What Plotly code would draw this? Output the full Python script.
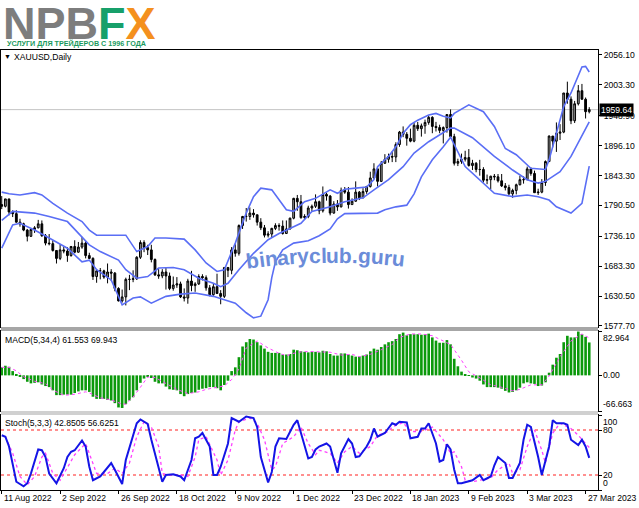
import math
import plotly.graph_objects as go

# ---------------- data ----------------
tick_idx = [0, 16, 32, 48, 64, 80, 96, 112, 128, 144, 160]
tick_labels = ["11 Aug 2022", "2 Sep 2022", "26 Sep 2022", "18 Oct 2022", "9 Nov 2022",
               "1 Dec 2022", "23 Dec 2022", "18 Jan 2023", "9 Feb 2023", "3 Mar 2023", "27 Mar 2023"]

opens = [1792,1789,1802,1779,1776,1761,1758,1747,1736,1748,
         1751,1758,1737,1724,1723,1711,1697,1712,1710,1702,
         1718,1708,1717,1724,1702,1697,1665,1675,1675,1664,
         1673,1671,1644,1622,1629,1660,1660,1661,1699,1725,
         1716,1712,1695,1668,1666,1673,1666,1644,1650,1652,
         1629,1627,1657,1649,1652,1665,1663,1645,1633,1647,
         1635,1630,1681,1676,1712,1706,1755,1771,1771,1777,
         1774,1761,1751,1738,1740,1750,1755,1754,1741,1749,
         1768,1803,1797,1769,1771,1786,1789,1797,1781,1810,
         1807,1777,1793,1788,1817,1814,1792,1798,1814,1804,
         1815,1824,1839,1855,1833,1865,1872,1877,1876,1898,
         1920,1916,1909,1904,1932,1926,1931,1937,1946,1930,
         1928,1923,1928,1951,1912,1865,1868,1872,1875,1861,
         1865,1854,1854,1835,1836,1842,1841,1834,1825,1822,
         1811,1817,1827,1836,1836,1855,1847,1813,1814,1831,
         1868,1913,1904,1918,1920,1989,1978,1940,1970,1993,
         1978,1956]
highs = [1807,1802,1802,1782,1782,1767,1760,1749,1749,1754,
         1765,1764,1740,1740,1729,1711,1722,1718,1717,1719,
         1729,1726,1735,1728,1707,1699,1677,1680,1677,1688,
         1678,1673,1646,1642,1663,1668,1676,1701,1729,1729,
         1721,1721,1697,1678,1678,1681,1672,1665,1664,1656,
         1644,1661,1675,1655,1669,1669,1667,1650,1653,1670,
         1641,1681,1681,1717,1722,1757,1772,1786,1787,1784,
         1774,1768,1756,1745,1751,1759,1759,1764,1764,1769,
         1804,1809,1809,1775,1790,1792,1810,1799,1824,1813,
         1809,1798,1800,1822,1823,1823,1803,1833,1816,1821,
         1825,1850,1865,1858,1869,1881,1882,1886,1902,1922,
         1930,1920,1926,1936,1938,1935,1942,1949,1948,1938,
         1933,1930,1951,1960,1917,1873,1882,1887,1890,1871,
         1867,1871,1858,1845,1843,1846,1846,1846,1830,1827,
         1820,1829,1843,1842,1859,1858,1852,1820,1837,1870,
         1914,1913,1937,1934,1989,2009,1983,1975,2003,2005,
         1981,1964]
lows = [1784,1787,1773,1770,1760,1753,1745,1727,1735,1742,
        1750,1735,1720,1720,1709,1688,1694,1706,1691,1700,
        1706,1707,1714,1697,1696,1659,1654,1660,1661,1653,
        1657,1639,1621,1619,1614,1641,1655,1659,1696,1708,
        1703,1690,1666,1661,1662,1642,1641,1640,1645,1627,
        1621,1617,1639,1638,1650,1658,1640,1630,1631,1635,
        1616,1627,1664,1669,1700,1702,1749,1762,1765,1769,
        1755,1747,1734,1734,1733,1747,1746,1739,1740,1748,
        1766,1781,1767,1765,1768,1780,1786,1775,1778,1799,
        1773,1776,1781,1787,1811,1785,1792,1797,1800,1803,
        1811,1822,1838,1824,1832,1864,1866,1867,1867,1894,
        1911,1896,1902,1902,1922,1912,1917,1933,1918,1921,
        1918,1900,1919,1911,1861,1860,1864,1868,1859,1853,
        1849,1843,1831,1828,1819,1835,1831,1823,1817,1809,
        1804,1810,1826,1829,1835,1843,1813,1809,1812,1825,
        1867,1893,1885,1906,1918,1970,1934,1936,1967,1977,
        1944,1953]
closes = [1789,1802,1779,1776,1761,1758,1747,1736,1748,1751,
          1758,1737,1724,1723,1711,1697,1712,1710,1702,1718,
          1708,1717,1724,1702,1697,1665,1675,1675,1664,1673,
          1671,1644,1622,1629,1660,1660,1661,1699,1725,1716,
          1712,1695,1668,1666,1673,1666,1644,1650,1652,1629,
          1627,1657,1649,1652,1665,1663,1645,1633,1647,1635,
          1630,1681,1676,1712,1706,1755,1771,1771,1777,1774,
          1761,1751,1738,1740,1750,1755,1754,1741,1749,1768,
          1803,1797,1769,1771,1786,1789,1797,1781,1810,1807,
          1777,1793,1788,1817,1814,1792,1798,1814,1804,1815,
          1824,1839,1855,1833,1865,1872,1877,1876,1898,1920,
          1916,1909,1904,1932,1926,1931,1937,1946,1930,1928,
          1923,1928,1951,1912,1865,1868,1872,1875,1861,1865,
          1854,1854,1835,1836,1842,1841,1834,1825,1822,1811,
          1817,1827,1836,1836,1855,1847,1813,1814,1831,1868,
          1913,1904,1918,1920,1989,1978,1940,1970,1993,1978,
          1956,1959.64]
bars_idx = list(range(len(closes)))

bb_up_idx = [0,2,5,9,11,14,18,22,24,26,34,37,40,42,45,50,53,56,59,61,64,67,69,71,74,76,78,80,82,83,86,
             90,92,94,97,100,102,103,106,108,110,112,114,117,119,121,123,124,128,132,135,138,141,145,149,
             150,152,154,156,159,160,161]
bb_up = [1814,1811,1809,1813,1809,1794,1777,1762,1747,1738,1738,1709,1718,1733,1733,1731,1712,1689,1674,1677,
         1724,1777,1806,1821,1818,1800,1783,1780,1791,1797,1803,1818,1812,1819,1821,1823,1836,1859,1877,1894,
         1918,1933,1941,1950,1953,1948,1945,1953,1968,1956,1930,1891,1880,1856,1854,1871,1918,1965,1989,2035,
         2036,2026]
bb_mid_idx = [0,3,9,13,18,22,24,27,32,34,37,40,43,47,50,54,58,60,62,65,69,73,76,80,82,85,90,94,99,102,106,
              110,113,117,120,123,124,129,135,140,144,147,149,153,156,159,161]
bb_mid = [1764,1780,1777,1771,1762,1735,1721,1709,1694,1677,1662,1665,1680,1681,1677,1662,1653,1647,1653,1677,
          1706,1730,1741,1753,1759,1780,1788,1797,1804,1818,1836,1859,1883,1903,1915,1927,1927,1910,1877,1853,
          1836,1830,1833,1850,1877,1915,1938]
bb_low_idx = [0,2,3,5,9,13,18,22,24,26,30,33,36,38,41,45,49,53,58,61,64,67,69,71,73,74,75,77,80,84,87,90,92,
              94,98,103,105,108,111,113,115,118,121,123,127,131,135,140,144,147,150,152,156,159,161]
bb_low = [1715,1741,1756,1759,1747,1733,1715,1691,1694,1677,1659,1615,1627,1629,1618,1630,1634,1636,1630,1624,
          1618,1601,1592,1595,1624,1663,1691,1712,1724,1728,1737,1749,1767,1776,1776,1777,1783,1788,1791,1811,
          1841,1871,1894,1911,1859,1836,1812,1806,1809,1806,1800,1788,1777,1794,1860]

macd_hist = [15,18,16,8,2,-2,-7,-12,-15,-14,
             -13,-17,-20,-22,-28,-37,-37,-36,-36,-36,
             -33,-30,-28,-28,-31,-40,-44,-44,-44,-46,
             -47,-52,-60,-61,-54,-47,-41,-28,-14,-6,
             -2,-5,-12,-15,-15,-21,-26,-27,-28,-35,
             -39,-35,-33,-32,-27,-25,-24,-22,-22,-24,
             -28,-18,-10,8,15,34,54,62,68,67,
             62,56,50,44,42,42,42,39,39,40,
             48,47,45,44,43,44,44,43,46,45,
             40,37,37,41,41,39,37,35,35,37,
             39,45,50,48,53,58,62,64,68,77,
             80,75,77,77,77,76,77,78,71,65,
             61,61,66,58,31,17,7,2,-1,-4,
             -6,-10,-17,-22,-22,-22,-23,-25,-29,-32,
             -31,-28,-23,-15,-13,-15,-16,-20,-19,-13,
             5,20,33,40,62,74,71,71,82,77,
             72,61.553]
macd_sig_idx = [0,2,4,6,9,12,14,17,20,23,24,27,30,33,34,36,38,40,42,44,45,48,51,54,56,59,61,63,65,67,70,73,76,
                78,81,84,87,90,93,96,98,101,104,107,109,112,115,118,120,123,126,128,131,134,137,140,142,145,148,
                150,153,156,159,161]
macd_sig = [15,15,8.5,-2.6,-11,-15.7,-27.6,-37.4,-35.4,-30.8,-32.8,-42,-45.9,-53.8,-53.8,-40.7,-22.3,-3,-4,-11,
            -15.7,-26.2,-34.1,-30.8,-26.2,-22.3,-19.7,-7.9,11.8,51.2,64.3,51.2,41.3,36.7,43.3,44.6,44.6,43.3,38,
            39.4,34.8,39.4,47.9,57.7,70.9,77.4,77.4,74.1,67.6,57.7,28.2,6.6,-4.6,-17.7,-22.3,-28.9,-26.2,-17.7,
            -17.7,-1.3,34.8,64.3,77.4,69.943]

stoch_k_idx = [0,1,2,4,6,7,8,10,11,12,13,15,17,18,19,20,22,23,24,25,27,28,30,31,33,34,36,37,38,40,41,43,44,45,
               47,49,50,52,53,54,55,57,58,59,60,62,63,65,66,67,69,70,71,73,74,75,76,78,80,81,82,84,85,86,87,89,
               90,92,93,95,96,97,98,100,101,102,103,105,107,108,109,111,112,114,115,116,117,118,119,120,121,122,
               123,124,125,126,128,129,131,132,134,135,136,138,139,140,142,143,144,145,147,148,150,151,152,154,
               155,156,158,159,160,161]
stoch_k = [73,71,58,11,5,9,22,54,53,44,22,9,29,44,51,53,66,58,31,13,18,24,36,27,8,40,71,89,94,88,67,31,11,20,
           21,18,13,40,69,71,76,58,20,20,31,62,96,91,94,98,96,84,44,10,24,58,69,68,87,93,76,42,44,54,58,62,
           58,23,49,68,62,44,45,58,67,82,71,76,89,87,91,90,69,71,82,82,89,76,62,38,40,61,
           54,27,9,9,11,13,20,13,18,33,44,36,16,16,36,67,87,84,44,20,58,93,89,89,
           87,67,60,67,58,42.8505]
stoch_d_idx = [1,3,5,7,9,11,12,14,16,18,20,23,24,26,29,31,33,35,37,39,41,43,44,46,49,51,53,54,56,59,60,62,64,
               65,68,70,72,74,75,77,80,82,84,86,87,90,92,94,96,98,101,103,106,107,110,112,115,118,121,123,124,
               126,127,129,132,134,136,139,140,142,144,146,148,149,151,153,156,158,160,161]
stoch_d = [71,49,18,7,18,44,49,22,13,31,47,62,49,22,22,29,22,36,71,91,84,58,22,20,20,18,44,67,71,40,20,40,80,
           91,96,89,67,27,31,62,71,84,62,47,53,49,36,51,58,49,58,73,78,84,90,78,78,84,67,49,51,
           31,13,11,14,16,27,36,22,27,58,80,53,36,76,89,82,73,62,56.6251]

price_ticks = [2056.10, 2003.30, 1948.90, 1896.10, 1843.30, 1790.50, 1736.10, 1683.30, 1630.50, 1577.70]
last_price = 1959.64
macd_max, macd_min = 82.964, -66.663

# ---------------- layout helpers ----------------
W, H = 639, 508
L, R, T, B = 1, 41, 50, 18
PW, PH = W - L - R, H - T - B


def px(xp):
    return (xp - L) / PW


def py(yp):
    return (H - B - yp) / PH


FONT = "Liberation Sans, Arial, sans-serif"
SMALL = dict(family=FONT, size=8.6, color="black")
BAND = "#5a6ef5"
XR = [-0.2, 163.4]

fig = go.Figure()

fig.add_trace(go.Candlestick(
    x=bars_idx, open=opens, high=highs, low=lows, close=closes,
    increasing=dict(line=dict(color="black", width=1), fillcolor="#9b9b9b"),
    decreasing=dict(line=dict(color="black", width=1), fillcolor="black"),
    xaxis="x", yaxis="y", hoverinfo="skip"))
for ix, vals in ((bb_up_idx, bb_up), (bb_mid_idx, bb_mid), (bb_low_idx, bb_low)):
    fig.add_trace(go.Scatter(x=ix, y=vals, mode="lines", line=dict(color=BAND, width=1.6),
                             xaxis="x", yaxis="y", hoverinfo="skip"))

fig.add_trace(go.Bar(x=bars_idx, y=macd_hist, marker=dict(color="#0b990b", line=dict(width=0)),
                     xaxis="x2", yaxis="y2", hoverinfo="skip"))
fig.add_trace(go.Scatter(x=macd_sig_idx, y=macd_sig, mode="lines",
                         line=dict(color="#ff40ff", width=1, dash="dot"),
                         xaxis="x2", yaxis="y2", hoverinfo="skip"))

fig.add_trace(go.Scatter(x=stoch_d_idx, y=stoch_d, mode="lines",
                         line=dict(color="#ff40ff", width=1.3, dash="dot"),
                         xaxis="x3", yaxis="y3", hoverinfo="skip"))
fig.add_trace(go.Scatter(x=stoch_k_idx, y=stoch_k, mode="lines",
                         line=dict(color="#1414e6", width=2),
                         xaxis="x3", yaxis="y3", hoverinfo="skip"))

ax_common = dict(showgrid=False, zeroline=False, showline=True, linecolor="black", linewidth=1,
                 mirror=True)
dom_main = [py(327), 1.0]
dom_macd = [py(411), py(331)]
dom_sto = [0.0, py(415)]

fig.update_layout(
    width=W, height=H, margin=dict(l=L, r=R, t=T, b=B),
    paper_bgcolor="white", plot_bgcolor="white", showlegend=False, hovermode=False,
    bargap=0.28,
    xaxis=dict(domain=[0, 1], anchor="y", range=XR, showticklabels=False, ticks="",
               rangeslider=dict(visible=False), **ax_common),
    xaxis2=dict(domain=[0, 1], anchor="y2", range=XR, matches="x", showticklabels=False, ticks="",
                **ax_common),
    xaxis3=dict(domain=[0, 1], anchor="y3", range=XR, matches="x", showticklabels=False,
                ticks="outside", ticklen=3, tickcolor="black", tickvals=tick_idx, **ax_common),
    yaxis=dict(domain=dom_main, anchor="x", side="right", range=[1575.9, 2064.9],
               tickvals=price_ticks, ticktext=[f"{v:.2f}" for v in price_ticks],
               ticks="outside", ticklen=3, tickcolor="black", tickfont=SMALL, **ax_common),
    yaxis2=dict(domain=dom_macd, anchor="x2", side="right", range=[macd_min, macd_max],
                tickvals=[macd_max, 0, macd_min], showticklabels=False,
                ticks="outside", ticklen=3, tickcolor="black", **ax_common),
    yaxis3=dict(domain=dom_sto, anchor="x3", side="right", range=[0, 100],
                tickvals=[100, 80, 20, 0], showticklabels=False,
                ticks="outside", ticklen=3, tickcolor="black", **ax_common),
)

shapes = [
    dict(type="line", xref="paper", x0=0, x1=1, yref="y", y0=last_price, y1=last_price,
         line=dict(color="#c4c4c4", width=1), layer="below"),
    dict(type="line", xref="paper", x0=0, x1=1, yref="y3", y0=80, y1=80,
         line=dict(color="#ff2020", width=1, dash="dot"), layer="below"),
    dict(type="line", xref="paper", x0=0, x1=1, yref="y3", y0=20, y1=20,
         line=dict(color="#ff2020", width=1, dash="dot"), layer="below"),
    dict(type="rect", xref="paper", yref="paper", x0=0, x1=1, y0=py(331), y1=py(327),
         fillcolor="#a6a6a6", line=dict(width=0), layer="above"),
    dict(type="rect", xref="paper", yref="paper", x0=0, x1=1, y0=py(415), y1=py(411),
         fillcolor="#d0d0d0", line=dict(width=0), layer="above"),
]
fig.update_layout(shapes=shapes)

ann = []
# logo
ann.append(dict(xref="paper", yref="paper", x=px(1), y=py(23), xanchor="left", yanchor="middle",
                showarrow=False,
                text="<b><span style='color:#7d7d7d'>NPB</span><span style='color:#17a06a'>F</span>"
                     "<span style='color:#f4901e'>X</span></b>",
                font=dict(family=FONT, size=45)))
ann.append(dict(xref="paper", yref="paper", x=px(5), y=py(44), xanchor="left", yanchor="middle",
                showarrow=False, text="<b>УСЛУГИ ДЛЯ ТРЕЙДЕРОВ С 1996 ГОДА</b>",
                font=dict(family=FONT, size=7.2, color="#1a9a5e")))
# panel titles
ann.append(dict(xref="paper", yref="paper", x=px(2), y=py(57), xanchor="left", yanchor="middle",
                showarrow=False, text="▼", font=dict(family=FONT, size=7, color="black")))
ann.append(dict(xref="paper", yref="paper", x=px(12), y=py(57), xanchor="left", yanchor="middle",
                showarrow=False, text="XAUUSD,Daily", font=SMALL))
ann.append(dict(xref="paper", yref="paper", x=px(3), y=py(340), xanchor="left", yanchor="middle",
                showarrow=False, text="MACD(5,34,4) 61.553 69.943", font=SMALL))
ann.append(dict(xref="paper", yref="paper", x=px(3), y=py(423), xanchor="left", yanchor="middle",
                showarrow=False, text="Stoch(5,3,3) 42.8505 56.6251", font=SMALL))
# current price box
ann.append(dict(xref="paper", yref="y", x=1, y=last_price, xanchor="left", yanchor="middle", xshift=1,
                showarrow=False, text="1959.64", bgcolor="black", borderpad=1,
                font=dict(family=FONT, size=8.6, color="white")))
# indicator scale labels
for yref, val, txt, anch in (("y2", macd_max, "82.964", "top"), ("y2", 0, "0.00", "middle"),
                             ("y2", macd_min, "-66.663", "bottom"),
                             ("y3", 100, "100", "top"), ("y3", 80, "80", "middle"),
                             ("y3", 20, "20", "middle"), ("y3", 0, "0", "bottom")):
    ann.append(dict(xref="paper", yref=yref, x=1, y=val, xanchor="left", yanchor=anch, xshift=3,
                    showarrow=False, text=txt, font=SMALL))
# date labels
for ix, lab in zip(tick_idx, tick_labels):
    ann.append(dict(xref="x3", yref="paper", x=ix, y=0, xanchor="left", yanchor="top", yshift=-1,
                    showarrow=False, text=lab, font=SMALL))

# watermark along a gentle arc
wm = "binaryclub.guru"
wm_w = {"b": .611, "i": .278, "n": .611, "a": .556, "r": .389, "y": .556, "c": .556,
        "l": .278, "u": .611, ".": .278, "g": .611}
wm_size = 21
xcur = 246.0
apex_x, apex_y, k = 336.0, 255.0, 0.00085
for ch in wm:
    w = wm_w[ch] * wm_size
    cx = xcur + w / 2
    cy = apex_y + k * (cx - apex_x) ** 2
    ang = math.degrees(math.atan(2 * k * (cx - apex_x)))
    ann.append(dict(xref="paper", yref="paper", x=px(cx), y=py(cy), xanchor="center", yanchor="middle",
                    showarrow=False, text=f"<b>{ch}</b>", textangle=ang,
                    font=dict(family=FONT, size=wm_size, color="#6b8cd9")))
    xcur += w

fig.update_layout(annotations=ann)
fig.write_html("out.html", config={"displayModeBar": False},
               post_script="document.body.style.margin='0';")
